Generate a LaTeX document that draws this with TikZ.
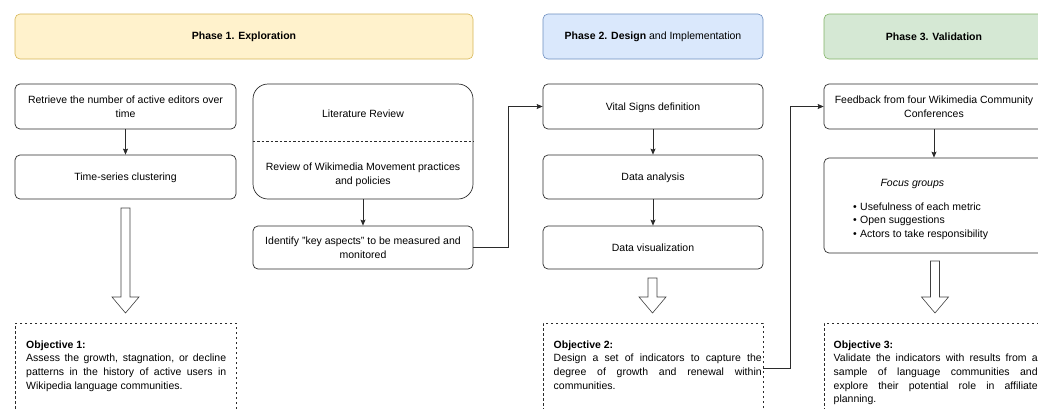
\documentclass[tikz,border=0pt]{standalone}
\usepackage{fontspec}
\setmainfont{Liberation Sans}
\usetikzlibrary{arrows.meta}

\definecolor{explfill}{HTML}{FFF2CC}
\definecolor{explline}{HTML}{D6B656}
\definecolor{implfill}{HTML}{DAE8FC}
\definecolor{implline}{HTML}{6C8EBF}
\definecolor{valfill}{HTML}{D5E8D4}
\definecolor{valline}{HTML}{82B366}
\definecolor{edge}{HTML}{2B2B2B}

\hyphenpenalty=10000
\exhyphenpenalty=10000

\begin{document}
\begin{tikzpicture}[x=1pt, y=-1pt,
    font=\fontsize{10.5}{14}\selectfont,
    phase/.style={rounded corners=5pt, minimum width=220pt, minimum height=45pt, line width=0.6pt},
    stepbox/.style={draw=edge, rounded corners=5pt, minimum width=221pt, minimum height=45pt,
      align=center, line width=0.7pt, text depth=0pt},
    goalbox/.style={draw=edge, dash pattern=on 2.5pt off 2.5pt, minimum width=221pt,
      minimum height=90pt, line width=0.7pt},
    goaltext/.style={anchor=north west, inner sep=0pt, align=justify,
      font=\fontsize{10.5}{13.6}\selectfont},
    link/.style={draw=edge, line width=0.7pt, -{Stealth[length=6pt, width=5pt, inset=1pt]}},
    fatarrow/.style={draw=black!75, fill=white, line width=0.6pt, line join=miter}]

  \useasboundingbox (0,0) rectangle (1038,408);
  \clip (0,0) rectangle (1038,408);

  % phase headers
  \node[phase, draw=explline, fill=explfill, minimum width=458pt] (phase1) at (244,36.5)
    {\textbf{Phase 1. Exploration}};
  \node[phase, draw=implline, fill=implfill] (phase2) at (653,36.5)
    {\textbf{Phase 2. Design} and Implementation};
  \node[phase, draw=valline, fill=valfill] (phase3) at (934,36.5)
    {\textbf{Phase 3. Validation}};

  % exploration
  \node[stepbox] (editors) at (125.5,106.5) {Retrieve the number of active editors over\\time};
  \node[stepbox, minimum height=44pt] (cluster) at (125.5,177) {Time-series clustering};

  \node[stepbox, rounded corners=15pt, minimum width=220pt, minimum height=115pt] (litbox) at (363,141.5) {};
  \draw[edge, dash pattern=on 2.5pt off 2pt, line width=0.6pt] (litbox.west) -- (litbox.east);
  \node (litrev) at (363,114) {Literature Review};
  \node[align=center] (movement) at (363,175) {Review of Wikimedia Movement practices\\and policies};

  \node[stepbox, minimum width=220pt, minimum height=43pt] (aspects) at (363,247.5)
    {Identify "key aspects" to be measured and\\monitored};

  % design and implementation
  \node[stepbox, minimum width=220pt] (vital) at (653,106.5) {Vital Signs definition};
  \node[stepbox, minimum width=220pt, minimum height=44pt] (analysis) at (653,177) {Data analysis};
  \node[stepbox, minimum width=220pt, minimum height=43pt] (dataviz) at (653,247.5) {Data visualization};

  % validation
  \node[stepbox, minimum width=220pt] (feedback) at (934,106.5)
    {Feedback from four Wikimedia Community\\Conferences};
  \node[stepbox, minimum width=220pt, minimum height=95pt] (focus) at (934,205.5) {};
  \node[anchor=west, font=\fontsize{10.5}{14}\selectfont\itshape] (focustitle) at (877,183.5) {Focus groups};
  \node[anchor=north west, inner sep=0pt, align=left, font=\fontsize{10.5}{13.6}\selectfont] (focuslist) at (853,202.5)
    {\makebox[7pt][l]{\textbullet}Usefulness of each metric\\
     \makebox[7pt][l]{\textbullet}Open suggestions\\
     \makebox[7pt][l]{\textbullet}Actors to take responsibility};

  % objectives
  \node[goalbox] (goal1) at (125.5,368) {};
  \node[goaltext, text width=200pt] (goal1txt) at (26,340.5)
    {\textbf{Objective 1:}\\
     Assess the growth, stagnation, or decline\linebreak
     patterns in the history of active users in\linebreak
     Wikipedia language communities.};
  \node[goalbox, minimum width=220pt] (goal2) at (653,368) {};
  \node[goaltext, text width=208pt] (goal2txt) at (553.5,340.5)
    {\textbf{Objective 2:}\\
     Design a set of indicators to capture the\linebreak
     degree of growth and renewal within\linebreak
     communities.};
  \node[goalbox, minimum width=220pt] (goal3) at (934,368) {};
  \node[goaltext, text width=204pt] (goal3txt) at (833.5,340.5)
    {\textbf{Objective 3:}\\
     Validate the indicators with results from a\linebreak
     sample of language communities and\linebreak
     explore their potential role in affiliate\linebreak
     planning.};

  % connectors
  \draw[link] (editors) -- (cluster);
  \draw[link] (litbox) -- (aspects);
  \draw[link] (aspects.east) -- ++(35,0) |- (vital.west);
  \draw[link] (vital) -- (analysis);
  \draw[link] (analysis) -- (dataviz);
  \draw[link] (goal2.east) -- ++(27,0) |- (feedback.west);
  \draw[link] (feedback) -- (focus);

  % hollow arrows down to the objectives
  \foreach \x/\top in {125.5/208, 652.5/278, 935/261} {
    \draw[fatarrow] (\x-4.5,\top) -- (\x+4.5,\top) -- (\x+4.5,297) -- (\x+13.5,297)
      -- (\x,313) -- (\x-13.5,297) -- (\x-4.5,297) -- cycle;
  }
\end{tikzpicture}
\end{document}
